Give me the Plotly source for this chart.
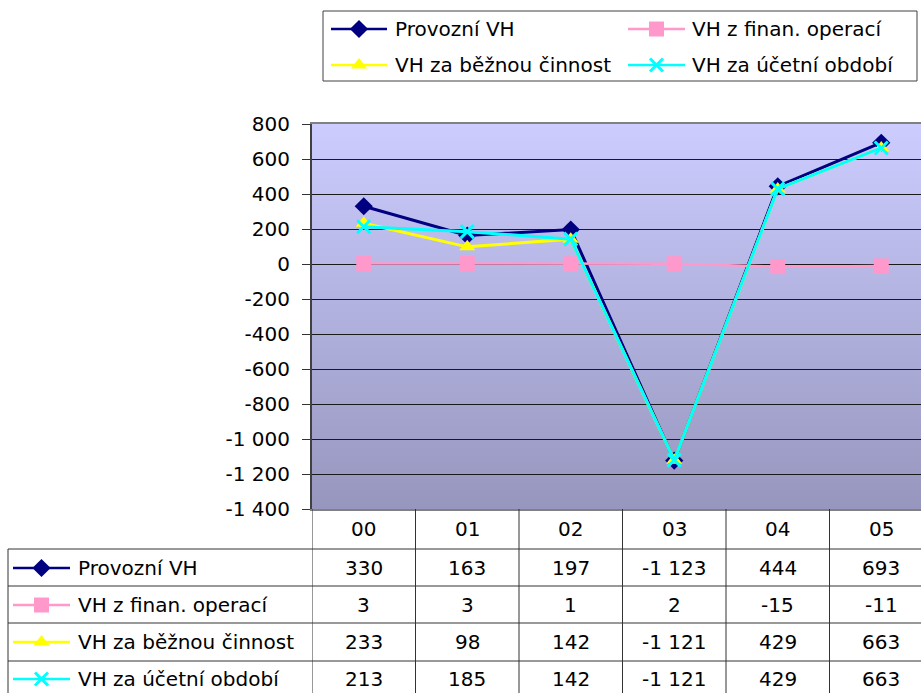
import base64
import plotly.graph_objects as go

# ---- data -------------------------------------------------------------
years = ["00", "01", "02", "03", "04", "05"]
series_names = [
    "Provozní VH",
    "VH z finan. operací",
    "VH za běžnou činnost",
    "VH za účetní období",
]
provozni_vh = [330, 163, 197, -1123, 444, 693]
financni_vh = [3, 3, 1, 2, -15, -11]
bezna_cinnost_vh = [233, 98, 142, -1121, 429, 663]
ucetni_obdobi_vh = [213, 185, 142, -1121, 429, 663]
y_ticks = list(range(-1400, 801, 200))

# ---- styling ----------------------------------------------------------
W, H = 921, 693
FONT = "DejaVu Sans, Liberation Sans, Arial, sans-serif"
FS = 20
styles = [
    dict(color="#000080", symbol="diamond", size=14, width=3),
    dict(color="#FF99CC", symbol="square", size=15, width=2.5),
    dict(color="#FFFF00", symbol="triangle-up", size=14, width=3),
    dict(color="#00FFFF", symbol="x-thin", size=13, width=3),
]
values = [provozni_vh, financni_vh, bezna_cinnost_vh, ucetni_obdobi_vh]

# plot area in pixels
PX0, PX1 = 312, W
PY0, PY1 = 124, 509
COL_W = 103.5  # width of one category column


def fmt(v):
    """Integer with a space as thousands separator and an ASCII minus."""
    return f"{v:,}".replace(",", " ")


def marker_for(st):
    if st["symbol"] == "x-thin":
        return dict(symbol="x-thin", size=st["size"],
                    line=dict(color=st["color"], width=3))
    return dict(symbol=st["symbol"], size=st["size"], color=st["color"],
                line=dict(width=0))


fig = go.Figure()

# data lines
for name, vals, st in zip(series_names, values, styles):
    fig.add_trace(go.Scatter(
        x=years, y=vals, name=name, mode="lines+markers",
        line=dict(color=st["color"], width=st["width"]),
        marker=marker_for(st), xaxis="x", yaxis="y",
        showlegend=False, cliponaxis=False,
    ))

# legend and table-row keys, drawn on a full-page pixel axis
legend_slots = [(331, 387, 29, 393), (628, 685, 29, 690),
                (331, 387, 65, 393), (628, 685, 65, 690)]
table_rows_y = [568, 605, 642, 679]
text_font = dict(family=FONT, size=FS, color="black")
annotations = []
for i, (name, st) in enumerate(zip(series_names, styles)):
    lx0, lx1, ly, tx = legend_slots[i]
    for (x0, x1, yy) in [(lx0, lx1, ly), (13, 70, table_rows_y[i])]:
        fig.add_trace(go.Scatter(
            x=[x0, x1], y=[yy, yy], mode="lines",
            line=dict(color=st["color"], width=2.5),
            xaxis="x2", yaxis="y2", showlegend=False, hoverinfo="skip",
        ))
        fig.add_trace(go.Scatter(
            x=[(x0 + x1) / 2], y=[yy], mode="markers",
            marker=marker_for(st),
            xaxis="x2", yaxis="y2", showlegend=False, hoverinfo="skip",
            cliponaxis=False,
        ))
    annotations.append(dict(x=tx, y=ly, xref="x2", yref="y2", text=name,
                            xanchor="left", yanchor="middle", showarrow=False,
                            font=text_font))
    annotations.append(dict(x=76, y=table_rows_y[i], xref="x2", yref="y2",
                            text=name, xanchor="left", yanchor="middle",
                            showarrow=False, font=text_font))
    # table values under each category
    for cat, v in zip(years, values[i]):
        annotations.append(dict(x=cat, y=table_rows_y[i], xref="x", yref="y2",
                                text=fmt(v), xanchor="center", yanchor="middle",
                                showarrow=False, font=text_font))

# category header row
for cat in years:
    annotations.append(dict(x=cat, y=529, xref="x", yref="y2", text=cat,
                            xanchor="center", yanchor="middle", showarrow=False,
                            font=text_font))

# table grid lines
shapes = []
LINE = dict(color="#333333", width=1)
for yy in [549, 586, 623, 661]:
    shapes.append(dict(type="line", xref="x2", yref="y2", x0=8, x1=W,
                       y0=yy, y1=yy, line=LINE))
shapes.append(dict(type="line", xref="x2", yref="y2", x0=8, x1=8,
                   y0=549, y1=H, line=LINE))
for k in range(len(years)):
    shapes.append(dict(type="line", xref="x", yref="y2", x0=k - 0.5,
                       x1=k - 0.5, y0=PY1, y1=H, line=LINE))
# legend frame
shapes.append(dict(type="rect", xref="x2", yref="y2", x0=323, x1=917,
                   y0=11, y1=81, line=dict(color="#404040", width=1)))

# vertical gradient behind the plot area
svg = ('<svg xmlns="http://www.w3.org/2000/svg" width="10" height="100" '
       'preserveAspectRatio="none"><defs><linearGradient id="g" x1="0" y1="0" '
       'x2="0" y2="1"><stop offset="0" stop-color="#CCCCFF"/>'
       '<stop offset="1" stop-color="#9696BE"/></linearGradient></defs>'
       '<rect width="10" height="100" fill="url(#g)"/></svg>')
svg_uri = "data:image/svg+xml;base64," + base64.b64encode(svg.encode()).decode()

fig.update_layout(
    template="none",
    width=W, height=H, autosize=False,
    margin=dict(l=0, r=0, t=0, b=0, pad=0, autoexpand=False),
    paper_bgcolor="white", plot_bgcolor="rgba(0,0,0,0)",
    font=dict(family=FONT, size=FS, color="black"),
    xaxis=dict(
        type="category", categoryorder="array", categoryarray=years,
        domain=[PX0 / W, 1],
        range=[-0.5, -0.5 + (PX1 - PX0) / COL_W],
        showticklabels=False, showgrid=False, zeroline=False, ticks="",
        showline=True, mirror=True, linecolor="#808080", linewidth=2,
        automargin=False,
    ),
    yaxis=dict(
        domain=[(H - PY1) / H, (H - PY0) / H],
        range=[-1400, 800], tickvals=y_ticks,
        ticktext=[fmt(v) for v in y_ticks],
        showgrid=True, gridcolor="#1a1a1a", gridwidth=1, zeroline=False,
        ticks="outside", ticklen=8, tickwidth=1, tickcolor="#333333",
        showline=True, linecolor="#404040", linewidth=2,
        ticklabelstandoff=8, automargin=False,
        tickfont=text_font,
    ),
    xaxis2=dict(domain=[0, 1], range=[0, W], visible=False, fixedrange=True,
                anchor="y2", automargin=False),
    yaxis2=dict(domain=[0, 1], range=[H, 0], visible=False, fixedrange=True,
                anchor="x2", automargin=False),
    images=[dict(source=svg_uri, xref="x domain", yref="y domain", x=0, y=1,
                 sizex=1, sizey=1, xanchor="left", yanchor="top",
                 sizing="stretch", layer="below")],
    shapes=shapes,
    annotations=annotations,
    hovermode=False,
)

fig.write_html("out.html")
